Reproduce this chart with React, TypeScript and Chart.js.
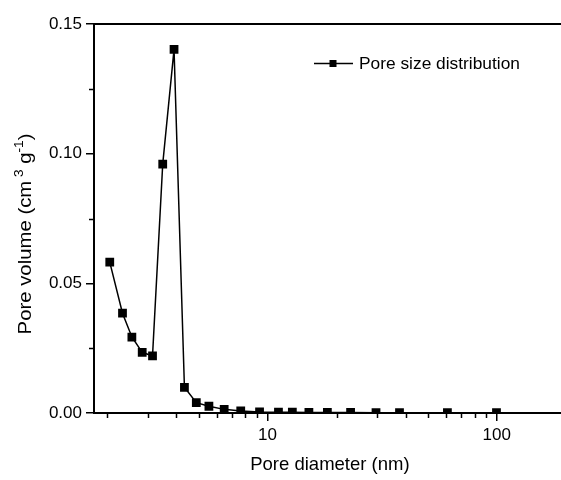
import React, { useEffect, useRef } from "react";
import { Chart, registerables } from "chart.js";

Chart.register(...registerables);

// Data
const poreDiameter = [2.05, 2.33, 2.56, 2.84, 3.15, 3.49, 3.91, 4.34, 4.89, 5.55, 6.47, 7.64, 9.23, 11.16, 12.83, 15.15, 18.24, 23.03, 29.73, 37.64, 60.9, 99.7];
const poreVolume = [0.0582, 0.0385, 0.0293, 0.0234, 0.022, 0.096, 0.1402, 0.0099, 0.004, 0.0026, 0.0014, 0.0008, 0.0004, 0.0003, 0.0003, 0.0002, 0.0002, 0.0002, 0.0001, 0.0001, 0.0001, 0.0001];
const seriesLabel = "Pore size distribution";

const xMajorTicks = [10, 100];
const xMinorTicks = [2, 3, 4, 5, 6, 7, 8, 9, 20, 30, 40, 50, 60, 70, 80, 90, 200];
const yMajorTicks = [0, 0.05, 0.1, 0.15];
const yMinorTicks = [0.025, 0.075, 0.125];

const xTitle = "Pore diameter (nm)";
const yTitleParts: { t: string; sup: boolean }[] = [
  { t: "Pore volume (cm", sup: false },
  { t: " 3", sup: true },
  { t: " g", sup: false },
  { t: "-1", sup: true },
  { t: ")", sup: false },
];

const FONT = "'Liberation Sans', Arial, Helvetica, sans-serif";

const decorPlugin = {
  id: "decor",
  afterDraw(chart: any) {
    const { ctx, chartArea } = chart;
    const xs = chart.scales.x;
    const ys = chart.scales.y;
    ctx.save();
    ctx.strokeStyle = "#000";
    // top frame line
    ctx.lineWidth = 2;
    ctx.beginPath();
    ctx.moveTo(chartArea.left - 1, chartArea.top);
    ctx.lineTo(chartArea.right + 1, chartArea.top);
    ctx.stroke();
    // minor ticks
    ctx.lineWidth = 1.5;
    ctx.beginPath();
    for (const v of xMinorTicks) {
      const px = Math.round(xs.getPixelForValue(v)) + 0.5;
      ctx.moveTo(px, chartArea.bottom);
      ctx.lineTo(px, chartArea.bottom + 5);
    }
    for (const v of yMinorTicks) {
      const py = Math.round(ys.getPixelForValue(v)) + 0.5;
      ctx.moveTo(chartArea.left, py);
      ctx.lineTo(chartArea.left - 5, py);
    }
    ctx.stroke();

    // y title with superscripts
    const mainSize = 18;
    const supSize = 12;
    const stretch = 1.13;
    let total = 0;
    for (const p of yTitleParts) {
      ctx.font = `${p.sup ? supSize : mainSize}px ${FONT}`;
      total += ctx.measureText(p.t).width;
    }
    ctx.translate(25, 234);
    ctx.rotate(-Math.PI / 2);
    ctx.scale(stretch, 1);
    ctx.fillStyle = "#000";
    ctx.textBaseline = "alphabetic";
    ctx.textAlign = "left";
    let cx = -total / 2;
    for (const p of yTitleParts) {
      ctx.font = `${p.sup ? supSize : mainSize}px ${FONT}`;
      ctx.fillText(p.t, cx, p.sup ? 6 - 8 : 6);
      cx += ctx.measureText(p.t).width;
    }
    ctx.restore();

    // legend
    ctx.save();
    const ly = 63;
    ctx.strokeStyle = "#000";
    ctx.lineWidth = 1.5;
    ctx.beginPath();
    ctx.moveTo(314, ly + 0.5);
    ctx.lineTo(353, ly + 0.5);
    ctx.stroke();
    ctx.fillStyle = "#000";
    ctx.fillRect(329.5, ly - 3, 7, 7);
    ctx.font = `17px ${FONT}`;
    ctx.textBaseline = "middle";
    ctx.textAlign = "left";
    ctx.translate(359, ly + 1);
    ctx.scale(1.02, 1);
    ctx.fillText(chart.data.datasets[0].label, 0, 0);
    ctx.restore();
  },
};

export default function App() {
  const ref = useRef<HTMLCanvasElement | null>(null);
  useEffect(() => {
    if (!ref.current) return;
    const chart = new Chart(ref.current, {
      type: "line",
      data: {
        datasets: [
          {
            label: seriesLabel,
            data: poreDiameter.map((d, i) => ({ x: d, y: poreVolume[i] })),
            borderColor: "#000",
            backgroundColor: "#000",
            borderWidth: 1.5,
            pointStyle: "rect",
            pointRadius: 6.2,
            pointBorderWidth: 0,
            pointBackgroundColor: "#000",
            tension: 0,
          },
        ],
      },
      options: {
        responsive: false,
        animation: false,
        devicePixelRatio: 1,
        layout: { padding: { top: 24, right: 2, left: 0, bottom: 0 } },
        plugins: { legend: { display: false }, tooltip: { enabled: false } },
        scales: {
          x: {
            type: "logarithmic",
            min: 1.75,
            max: 200,
            afterBuildTicks: (scale: any) => {
              scale.ticks = xMajorTicks.map((v) => ({ value: v, major: true }));
            },
            afterFit: (scale: any) => {
              scale.height = 67;
            },
            grid: { display: true, drawOnChartArea: false, tickLength: 8, color: "#000", lineWidth: 1.5 },
            border: { display: true, color: "#000", width: 2 },
            ticks: {
              autoSkip: false,
              maxRotation: 0,
              padding: 4,
              color: "#000",
              font: { family: FONT, size: 17 },
              callback: (v: any) => String(v),
            },
            title: {
              display: true,
              text: xTitle,
              color: "#000",
              font: { family: FONT, size: 18.5 },
              padding: { top: 4, bottom: 4 },
            },
          },
          y: {
            type: "linear",
            min: 0,
            max: 0.15,
            afterBuildTicks: (scale: any) => {
              scale.ticks = yMajorTicks.map((v) => ({ value: v }));
            },
            afterFit: (scale: any) => {
              scale.width = 94;
            },
            grid: { display: true, drawOnChartArea: false, tickLength: 8, color: "#000", lineWidth: 1.5 },
            border: { display: true, color: "#000", width: 2 },
            ticks: {
              padding: 4,
              color: "#000",
              font: { family: FONT, size: 17 },
              callback: (v: any) => Number(v).toFixed(2),
            },
          },
        },
      },
      plugins: [decorPlugin],
    });
    return () => chart.destroy();
  }, []);
  return (
    <div
      style={{
        position: "fixed",
        left: 0,
        top: 0,
        width: 561,
        height: 480,
        overflow: "hidden",
        background: "#fff",
      }}
    >
      <canvas ref={ref} width={572} height={480} style={{ display: "block", width: 572, height: 480 }} />
    </div>
  );
}
